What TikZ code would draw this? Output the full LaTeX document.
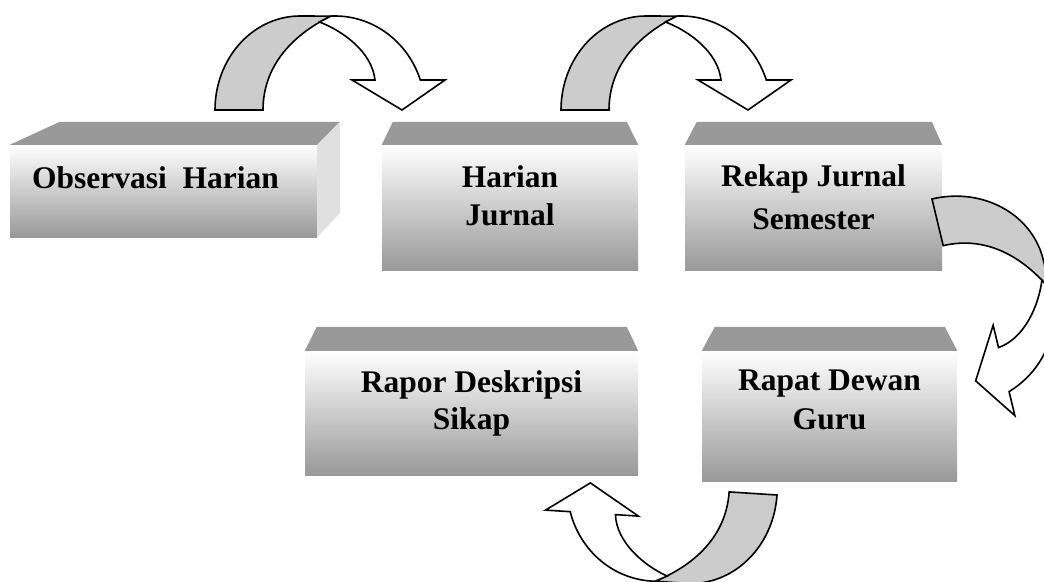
\documentclass[tikz,border=0pt]{standalone}
\usepackage{fontspec}
\setmainfont{Liberation Serif}
\usetikzlibrary{calc}

\definecolor{facegrey}{RGB}{153,153,153}
\definecolor{sidegrey}{RGB}{224,224,224}
\definecolor{bandgrey}{RGB}{204,204,204}

\tikzset{
  frontface/.style={rectangle, inner sep=0pt, draw=none, top color=white, bottom color=facegrey},
  topface/.style={fill=facegrey},
  sideface/.style={fill=sidegrey},
  boxtext/.style={font=\fontsize{31.5}{#1}\selectfont\bfseries, align=center, inner sep=0pt, anchor=north},
  boxtext/.default=38.3,
  bandback/.style={fill=bandgrey, draw=black, line width=1.6pt, line join=miter},
  bandfront/.style={fill=white, draw=black, line width=1.6pt, line join=miter},
  % curved ribbon arrow; origin at the outer edge of its foot
  curvedarrow/.pic={
    \coordinate (-x) at (116,-93.9);
    \coordinate (-c) at (104.5,-88);
    \filldraw[bandback]
      plot[domain=180:90, samples=36] ({85+85*cos(\x)}, {-94*sin(\x)})
      -- (-x) .. controls (75,-74) and (48,-42) .. (48,0)
      -- cycle;
    \filldraw[bandfront]
      (-x) -- plot[domain=92.5:18.6, samples=40] ({120+90*cos(\x)}, {-94*sin(\x)})
      -- (230,-30) -- (187,0) -- (137,-30) -- (160,-30)
      .. controls (157,-58) and (128,-79) .. (-c)
      -- cycle;
  }
}

\begin{document}
\begin{tikzpicture}[x=1pt, y=-1pt]
  \useasboundingbox (0,0) rectangle (1044,581);
  \clip (0,0) rectangle (1044,581);
  \fill[white] (0,0) rectangle (1044,581);

  % Observasi Harian (block with side face)
  \node[frontface, minimum width=307pt, minimum height=92pt] (b1) at (163.5,191) {};
  \fill[topface] (b1.north west) -- ++(50,-23) -- ++(280,0) -- (b1.north east) -- cycle;
  \fill[sideface] (b1.north east) -- ++(23,-23) -- ++(0,91) -- (b1.south east) -- cycle;
  \node[boxtext] (t1) at (155.5,166.3) {Observasi\ \ Harian};

  % Harian Jurnal
  \node[frontface, minimum width=256pt, minimum height=125pt] (b2) at (510,207.5) {};
  \fill[topface] (b2.north west) -- ++(11,-23) -- ++(234,0) -- (b2.north east) -- cycle;
  \node[boxtext] (t2) at (510,165.3) {Harian\\Jurnal};

  % Rekap Jurnal Semester
  \node[frontface, minimum width=257pt, minimum height=125pt] (b3) at (813.5,207.5) {};
  \fill[topface] (b3.north west) -- ++(12,-23) -- ++(235,0) -- (b3.north east) -- cycle;
  \node[boxtext=43.5] (t3) at (813.5,164.3) {Rekap Jurnal\\Semester};

  % Rapor Deskripsi Sikap
  \node[frontface, minimum width=333pt, minimum height=124pt] (b4) at (471.5,413) {};
  \fill[topface] (b4.north west) -- ++(12,-24) -- ++(310,0) -- (b4.north east) -- cycle;
  \node[boxtext=36.7] (t4) at (471.5,370.8) {Rapor Deskripsi\\Sikap};

  % Rapat Dewan Guru
  \node[frontface, minimum width=255pt, minimum height=130pt] (b5) at (829.5,416) {};
  \fill[topface] (b5.north west) -- ++(13,-24) -- ++(230,0) -- (b5.north east) -- cycle;
  \node[boxtext=39] (t5) at (829.5,370.1) {Rapat Dewan\\Guru};

  % curved arrows between the blocks
  \pic (a1) at (215,110) {curvedarrow};
  \pic (a2) at (561,110) {curvedarrow};
  \pic[rotate=-76.5] (a3) at (932,199) {curvedarrow};
  \pic[rotate=176.3] (a4) at (777,495) {curvedarrow};
\end{tikzpicture}
\end{document}
